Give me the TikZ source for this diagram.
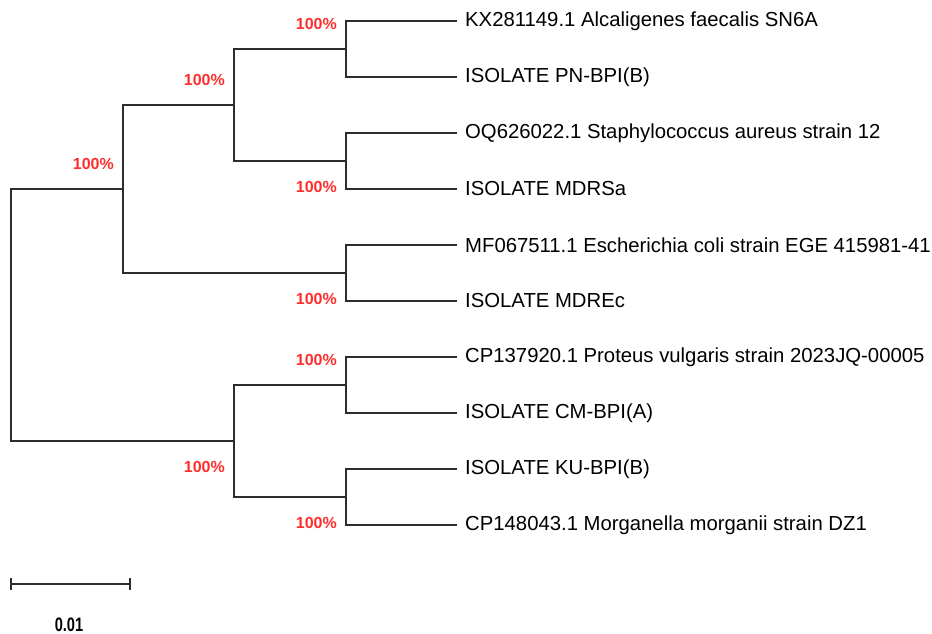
\documentclass[tikz,border=0pt]{standalone}
\usepackage{fontspec}
\setmainfont{Liberation Sans}
\newfontfamily\narrowbold[FakeStretch=0.75]{Liberation Sans Bold}
\usepackage{xcolor}
\definecolor{branchgray}{RGB}{45,45,45}
\definecolor{bootred}{RGB}{255,45,45}
\usepackage{tikz}
\usetikzlibrary{calc}

\begin{document}
\begin{tikzpicture}[
  x=1pt, y=-1pt,
  branch/.style={line width=1.4pt, color=branchgray},
  leaf/.style={anchor=west, inner xsep=8pt, inner ysep=2pt,
               font=\fontsize{20.3}{24}\selectfont, text=black},
  boot/.style={anchor=east, inner sep=0pt, text=bootred,
               font=\fontsize{16}{18}\selectfont\bfseries},
  scaletxt/.style={inner sep=0pt, font=\narrowbold\fontsize{19.5}{22}\selectfont}
]
\useasboundingbox (0,0) rectangle (932,634);

%% taxa
\node[leaf] (kx)    at (457,21)  {KX281149.1 Alcaligenes faecalis SN6A};
\node[leaf] (pn)    at (457,77)  {ISOLATE PN-BPI(B)};
\node[leaf] (oq)    at (457,133) {OQ626022.1 Staphylococcus aureus strain 12};
\node[leaf] (mdrsa) at (457,189) {ISOLATE MDRSa};
\node[leaf] (mf)    at (457,245) {MF067511.1 Escherichia coli strain EGE 415981-41};
\node[leaf] (mdrec) at (457,301) {ISOLATE MDREc};
\node[leaf] (cp1)   at (457,357) {CP137920.1 Proteus vulgaris strain 2023JQ-00005};
\node[leaf] (cm)    at (457,413) {ISOLATE CM-BPI(A)};
\node[leaf] (ku)    at (457,469) {ISOLATE KU-BPI(B)};
\node[leaf] (cp2)   at (457,525) {CP148043.1 Morganella morganii strain DZ1};

%% internal nodes
\coordinate (alc)   at (346,49);
\coordinate (sta)   at (346,161);
\coordinate (esc)   at (346,273);
\coordinate (pro)   at (346,385);
\coordinate (mor)   at (346,497);
\coordinate (alcsta) at (234,105);
\coordinate (promor) at (234,441);
\coordinate (upper) at (123,189);
\coordinate (root)  at (11,315);

%% branches
\draw[branch] (alc) |- (kx.west);
\draw[branch] (alc) |- (pn.west);
\draw[branch] (sta) |- (oq.west);
\draw[branch] (sta) |- (mdrsa.west);
\draw[branch] (esc) |- (mf.west);
\draw[branch] (esc) |- (mdrec.west);
\draw[branch] (pro) |- (cp1.west);
\draw[branch] (pro) |- (cm.west);
\draw[branch] (mor) |- (ku.west);
\draw[branch] (mor) |- (cp2.west);
\draw[branch] (alcsta) |- (alc);
\draw[branch] (alcsta) |- (sta);
\draw[branch] (upper) |- (alcsta);
\draw[branch] (upper) |- (esc);
\draw[branch] (promor) |- (pro);
\draw[branch] (promor) |- (mor);
\draw[branch] (root) |- (upper);
\draw[branch] (root) |- (promor);

%% bootstrap values
\node[boot] (balc)    at ($(alc)+(-9,-25)$)    {100\%};
\node[boot] (bsta)    at ($(sta)+(-9,26)$)     {100\%};
\node[boot] (besc)    at ($(esc)+(-9,26)$)     {100\%};
\node[boot] (bpro)    at ($(pro)+(-9,-25)$)    {100\%};
\node[boot] (bmor)    at ($(mor)+(-9,26)$)     {100\%};
\node[boot] (balcsta) at ($(alcsta)+(-9,-25)$) {100\%};
\node[boot] (bpromor) at ($(promor)+(-9,26)$)  {100\%};
\node[boot] (bupper)  at ($(upper)+(-9,-25)$)  {100\%};

%% scale bar
\coordinate (sbl) at (11,584);
\coordinate (sbr) at (130,584);
\draw[branch] (sbl) -- (sbr);
\draw[branch] ($(sbl)+(0,-6)$) -- ($(sbl)+(0,6)$);
\draw[branch] ($(sbr)+(0,-6)$) -- ($(sbr)+(0,6)$);
\node[scaletxt] (sbtxt) at (69,625) {0.01};

\end{tikzpicture}
\end{document}
